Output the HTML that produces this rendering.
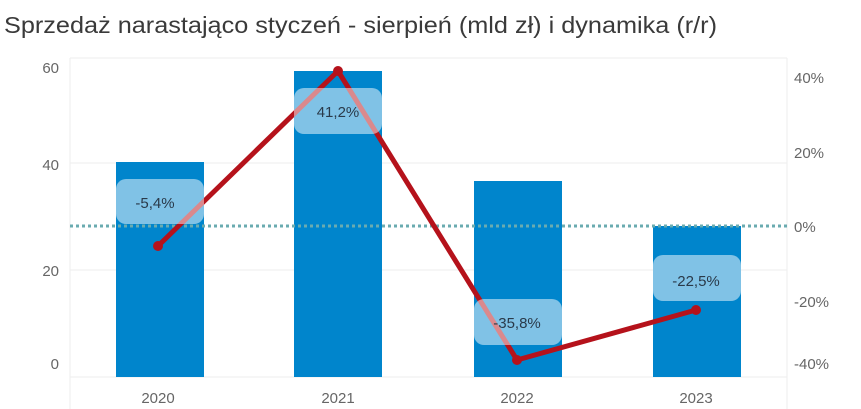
<!DOCTYPE html>
<html><head><meta charset="utf-8"><style>
body{margin:0;background:#fff;}
svg{display:block;font-family:"Liberation Sans",sans-serif;}
</style></head><body>
<svg width="861" height="409" viewBox="0 0 861 409">
<text x="4" y="33" font-size="23" fill="#3a3a3a" textLength="713" lengthAdjust="spacingAndGlyphs">Sprzedaż narastająco styczeń - sierpień (mld zł) i dynamika (r/r)</text>
<g stroke="#eeeeee" stroke-width="1">
<line x1="70" y1="58" x2="787" y2="58"/>
<line x1="70" y1="163" x2="787" y2="163"/>
<line x1="70" y1="270" x2="787" y2="270"/>
<line x1="70" y1="377" x2="787" y2="377"/>
<line x1="70" y1="58" x2="70" y2="409"/>
<line x1="787" y1="58" x2="787" y2="409"/>
</g>
<g fill="#0085cc">
<rect x="116" y="162" width="88" height="215"/>
<rect x="294" y="71" width="88" height="306"/>
<rect x="474" y="181" width="88" height="196"/>
<rect x="653" y="226" width="88" height="151"/>
</g>
<line x1="70" y1="226" x2="787" y2="226" stroke="#6aabb0" stroke-width="3" stroke-dasharray="3,3"/>
<polyline points="158,246 338,71 517,360 696,310" fill="none" stroke="#b5121b" stroke-width="5" stroke-linejoin="round"/>
<g fill="#b5121b"><circle cx="158" cy="246" r="5"/><circle cx="338" cy="71" r="5"/><circle cx="517" cy="360" r="5"/><circle cx="696" cy="310" r="5"/></g>
<g fill="#fff" fill-opacity="0.5">
<rect x="116" y="179" width="88" height="45" rx="10"/>
<rect x="294" y="88" width="88" height="46" rx="10"/>
<rect x="474" y="299" width="88" height="46" rx="10"/>
<rect x="653" y="255" width="88" height="46" rx="10"/>
</g>
<g font-size="15" fill="#2a3a4a" text-anchor="middle">
<text x="155" y="208">-5,4%</text>
<text x="338" y="117">41,2%</text>
<text x="517" y="328">-35,8%</text>
<text x="696" y="286">-22,5%</text>
</g>
<g font-size="15" fill="#666" text-anchor="end">
<text x="59" y="73">60</text>
<text x="59" y="170">40</text>
<text x="59" y="276">20</text>
<text x="59" y="369">0</text>
</g>
<g font-size="15" fill="#666">
<text x="794" y="83">40%</text>
<text x="794" y="158">20%</text>
<text x="794" y="232">0%</text>
<text x="794" y="307">-20%</text>
<text x="794" y="369">-40%</text>
</g>
<g font-size="15" fill="#666" text-anchor="middle">
<text x="158" y="403">2020</text>
<text x="338" y="403">2021</text>
<text x="517" y="403">2022</text>
<text x="696" y="403">2023</text>
</g>
</svg>
</body></html>
